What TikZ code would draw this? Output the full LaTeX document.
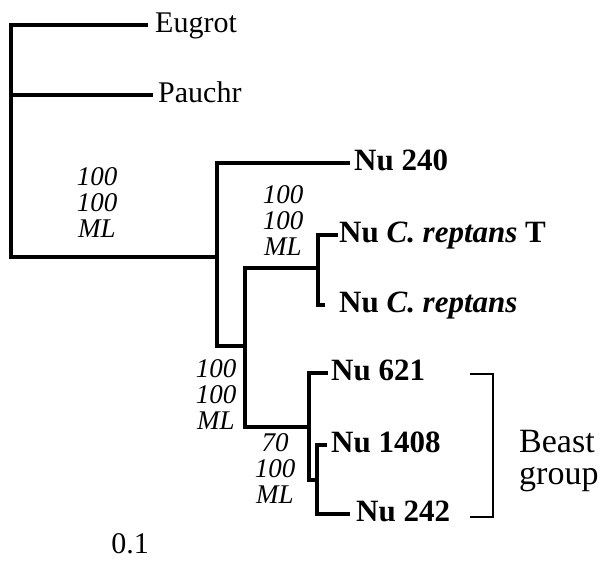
\documentclass[tikz,border=0pt]{standalone}
\usepackage{fontspec}
\setmainfont{Liberation Serif}
\usetikzlibrary{positioning}

\begin{document}
\begin{tikzpicture}[x=1pt,y=-1pt,
  branch/.style={line width=3.2pt},
  bracket/.style={line width=1.3pt},
  leaf/.style={anchor=west, inner sep=0pt, text height=21pt, text depth=7pt, font=\fontsize{31}{31}\selectfont\bfseries},
  outgroup/.style={anchor=west, inner sep=0pt, text height=21pt, text depth=7pt, font=\fontsize{30}{30}\selectfont},
  support/.style={align=center, inner sep=0pt, font=\fontsize{27}{26}\selectfont\itshape}]
\useasboundingbox (0,0) rectangle (606,566);
% Internal nodes of the tree
\coordinate (r1) at (11,25);   \coordinate (r2) at (11,257);
\coordinate (a1) at (217,163); \coordinate (a2) at (217,346);
\coordinate (b1) at (245,268); \coordinate (b2) at (245,427);
\coordinate (c1) at (318,235); \coordinate (c2) at (318,305);
\coordinate (d1) at (309,373); \coordinate (d2) at (309,480);
\coordinate (e1) at (317,445); \coordinate (e2) at (317,514);
% Branch tips
\foreach \n/\x/\y in {eug/148/25, pau/153/95, n240/350/163, crt/338/235, cr/325/305, n621/328/373, n1408/327/445, n242/350/514}
  {\coordinate (t\n) at (\x,\y);}
% Branches
\draw[branch] (teug) -| (r2) -- (a1 |- r2);
\draw[branch] (tpau) -- (r1 |- tpau);
\draw[branch] (tn240) -| (a2) -- (b1 |- a2);
\draw[branch] (c1 |- b1) -| (b2) -- (d1 |- b2);
\draw[branch] (tcrt) -| (c2) -- (tcr);
\draw[branch] (tn621) -| (d2) -- (e1 |- d2);
\draw[branch] (tn1408) -| (e2) -- (tn242);
% Taxon names
\node[outgroup, right=7pt of teug] (eug) {Eugrot};
\node[outgroup, right=5pt of tpau] (pau) {Pauchr};
\node[leaf, right=4pt of tn240] (n240) {Nu 240};
\node[leaf, right=1pt of tcrt] (crt) {Nu \textit{C. reptans} T};
\node[leaf, right=14pt of tcr] (cr) {Nu \textit{C. reptans}};
\node[leaf, right=3pt of tn621] (n621) {Nu 621};
\node[leaf, right=4pt of tn1408] (n1408) {Nu 1408};
\node[leaf, right=6pt of tn242] (n242) {Nu 242};
% Support values
\node[support] (sa) at (97,203) {100\\100\\ML};
\node[support] (sc) at (283,221) {100\\100\\ML};
\node[support] (sb) at (216,395) {100\\100\\ML};
\node[support] (sd) at (275,469) {70\\100\\ML};
% Beast group bracket
\coordinate (bt) at (470,374); \coordinate (bx) at (493,374); \coordinate (bb) at (470,517);
\draw[bracket] (bt) -- (bx) |- (bb);
\node[anchor=west, align=left, inner sep=0pt, font=\fontsize{34}{32}\selectfont] (beast) at (519,461) {Beast\\group};
% Scale
\node[font=\fontsize{30}{30}\selectfont, inner sep=0pt] (scale) at (130,544) {0.1};
\end{tikzpicture}
\end{document}
